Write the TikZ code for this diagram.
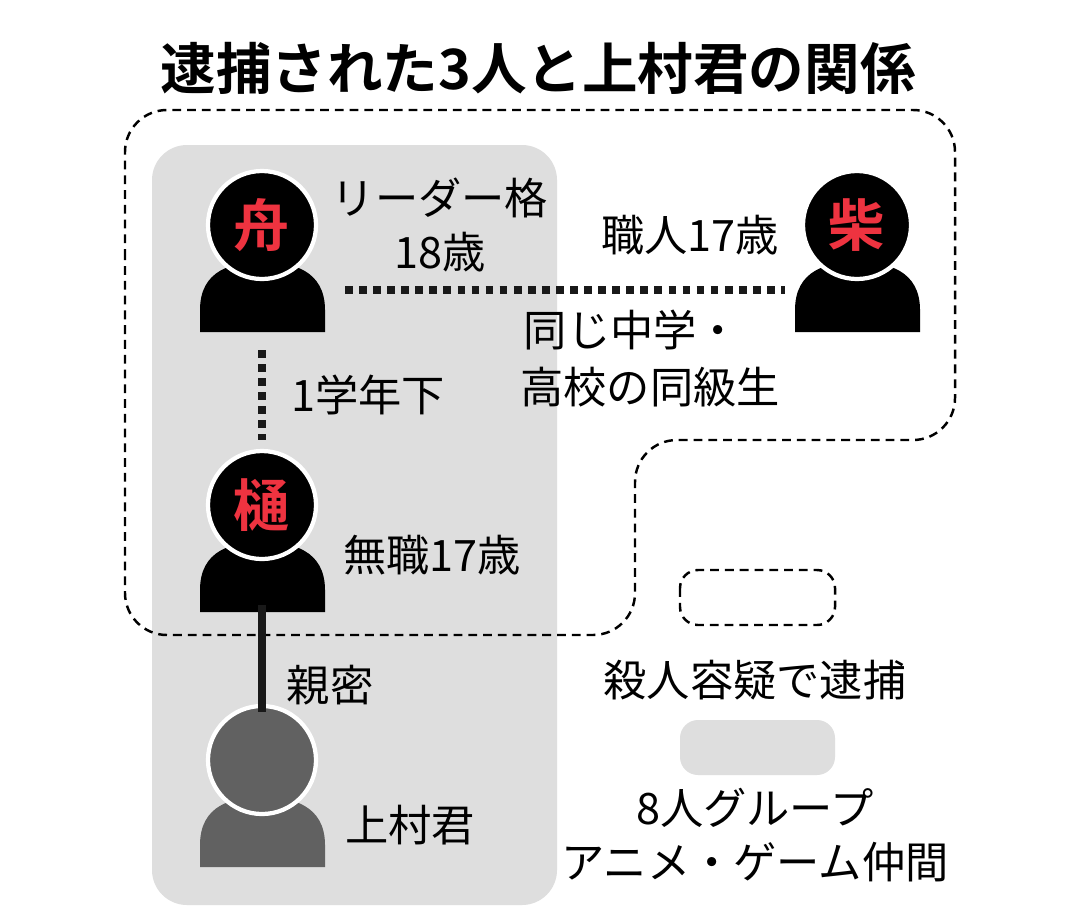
\documentclass[tikz,border=0pt]{standalone}
\usepackage{fontspec}
\setmainfont{Noto Sans CJK JP}
\newfontfamily\boldjp{Noto Sans CJK JP Bold}
\definecolor{hred}{HTML}{EE3340}
\begin{document}
\begin{tikzpicture}[x=0.01cm,y=-0.01cm,
  lbl/.style={font=\fontsize{12.3pt}{14pt}\selectfont, inner sep=0pt},
  headlbl/.style={font=\boldjp\fontsize{16pt}{18pt}\selectfont, text=hred, inner sep=0pt},
  dotline/.style={line width=2pt, dash pattern=on 2.2pt off 1.8pt, draw=black!90},
  dashline/.style={line width=0.7pt, dash pattern=on 2.5pt off 1.7pt}]
\useasboundingbox (0,0) rectangle (1080,918);
\fill[white] (0,0) rectangle (1080,918);
\node[font=\boldjp\fontsize{15.8pt}{18pt}\selectfont, inner sep=0pt] (title) at (538,68) {逮捕された3人と上村君の関係};
\fill[black!13, rounded corners=0.35cm] (152,145) rectangle (557,905);
\draw[dashline, rounded corners=0.42cm] (125,300) -- (125,110) -- (955,110) -- (955,440) -- (635,440) -- (635,635) -- (125,635) -- cycle;
% people
\foreach \n/\x/\y/\c in {fune/262/225/black, shiba/857/225/black, hi/262/505/black, ue/262/760/black!62}{
  \fill[\c] (\x-62,\y+107) -- (\x-62,\y+85) .. controls (\x-62,\y+45) and (\x-30,\y+37) .. (\x,\y+37) .. controls (\x+30,\y+37) and (\x+63,\y+45) .. (\x+63,\y+85) -- (\x+63,\y+107) -- cycle;
  \filldraw[fill=\c, draw=white, line width=1.2pt] (\x,\y) circle (54);
  \coordinate (\n) at (\x,\y);
}
\node[headlbl] (lf) at (fune) {舟};
\node[headlbl] (ls) at (shiba) {柴};
\node[headlbl] (lh) at (hi) {樋};
\coordinate (d1) at (345,290); \coordinate (d2) at (785,290);
\draw[dotline] (d1) -- (d2);
\coordinate (v1) at (262,350); \coordinate (v2) at (262,440);
\draw[dotline] (v1) -- (v2);
\coordinate (s1) at (262,605); \coordinate (s2) at (262,712);
\draw[line width=2pt, black!90] (s1) -- (s2);
\node[lbl] (t1) at (440,198) {リーダー格};
\node[lbl] (t2) at (440,252) {18歳};
\node[lbl] (t3) at (690,235) {職人17歳};
\node[lbl] (t4) at (632,330) {同じ中学・};
\node[lbl] (t5) at (650,387) {高校の同級生};
\node[lbl] (t6) at (368,395) {1学年下};
\node[lbl] (t7) at (432,555) {無職17歳};
\node[lbl] (t8) at (330,685) {親密};
\node[lbl] (t9) at (410,825) {上村君};
\draw[dashline, rounded corners=0.18cm] (680,570) rectangle (835,625);
\node[lbl] (t10) at (755,680) {殺人容疑で逮捕};
\fill[black!13, rounded corners=0.18cm] (680,720) rectangle (835,775);
\node[lbl] (t11) at (755,808) {8人グループ};
\node[lbl] (t12) at (755,862) {アニメ・ゲーム仲間};
\end{tikzpicture}
\end{document}
